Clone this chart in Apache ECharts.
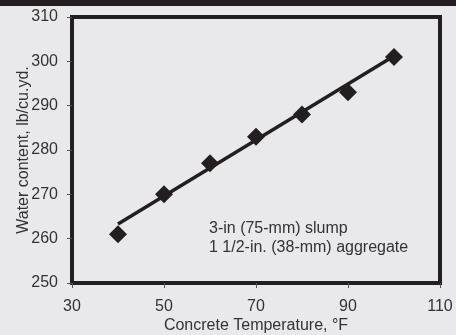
<!DOCTYPE html>
<html>
<head>
<meta charset="utf-8">
<script src="https://cdn.jsdelivr.net/npm/echarts@6/dist/echarts.min.js"></script>
<style>
  html, body {margin: 0; padding: 0; background: #e9e9eb;}
  #chart {width: 456px; height: 335px;}
</style>
</head>
<body>
<div id="chart"></div>
<script>
const temps = [40, 50, 60, 70, 80, 90, 100];
const water = [261, 270, 277, 283, 288, 293, 301];
// straight fit line, ends
const fitX = [40, 100];
const fitY = [263.3, 301.2];
const noteLines = ['3-in (75-mm) slump', '1 1/2-in. (38-mm) aggregate'];

const font = "'Liberation Sans', Arial, sans-serif";
const ink = '#231f20';
const textColor = '#333';

const chart = echarts.init(document.getElementById('chart'));
chart.setOption({
  backgroundColor: '#e9e9eb',
  animation: false,
  textStyle: {fontFamily: font},
  grid: {
    left: 72, right: 16, top: 17, bottom: 52,
    outerBoundsMode: 'none',
    containLabel: false,
    show: true,
    borderColor: ink,
    borderWidth: 4,
    backgroundColor: 'transparent'
  },
  xAxis: {
    type: 'value',
    min: 30, max: 110, interval: 20,
    name: 'Concrete Temperature, °F',
    nameLocation: 'middle',
    nameGap: 35,
    nameMoveOverlap: false,
    nameTextStyle: {color: textColor, fontSize: 16, fontFamily: font},
    axisLine: {show: false},
    axisTick: {show: true, length: 5, lineStyle: {color: '#555', width: 1}},
    splitLine: {show: false},
    axisLabel: {color: textColor, fontSize: 16, margin: 16, fontFamily: font}
  },
  yAxis: {
    type: 'value',
    min: 250, max: 310, interval: 10,
    name: 'Water content, lb/cu.yd.',
    nameLocation: 'middle',
    nameGap: 40,
    nameMoveOverlap: false,
    nameTextStyle: {color: textColor, fontSize: 16, fontFamily: font},
    axisLine: {show: false},
    axisTick: {show: true, length: 5, lineStyle: {color: '#555', width: 1}},
    splitLine: {show: false},
    axisLabel: {color: textColor, fontSize: 16, margin: 14, fontFamily: font}
  },
  series: [
    {
      type: 'line',
      data: fitX.map((x, i) => [x, fitY[i]]),
      symbol: 'none',
      lineStyle: {color: ink, width: 3.5},
      z: 2
    },
    {
      type: 'scatter',
      data: temps.map((t, i) => [t, water[i]]),
      symbol: 'diamond',
      symbolSize: 18,
      itemStyle: {color: ink, opacity: 1},
      z: 3
    }
  ],
  graphic: [
    {
      type: 'rect',
      left: 0, top: 0,
      shape: {width: 456, height: 6},
      style: {fill: ink}
    },
    {
      type: 'text',
      left: 209, top: 219,
      style: {
        text: noteLines.join('\n'),
        fill: textColor,
        font: '16px ' + font,
        lineHeight: 19
      }
    }
  ]
});
</script>
</body>
</html>
